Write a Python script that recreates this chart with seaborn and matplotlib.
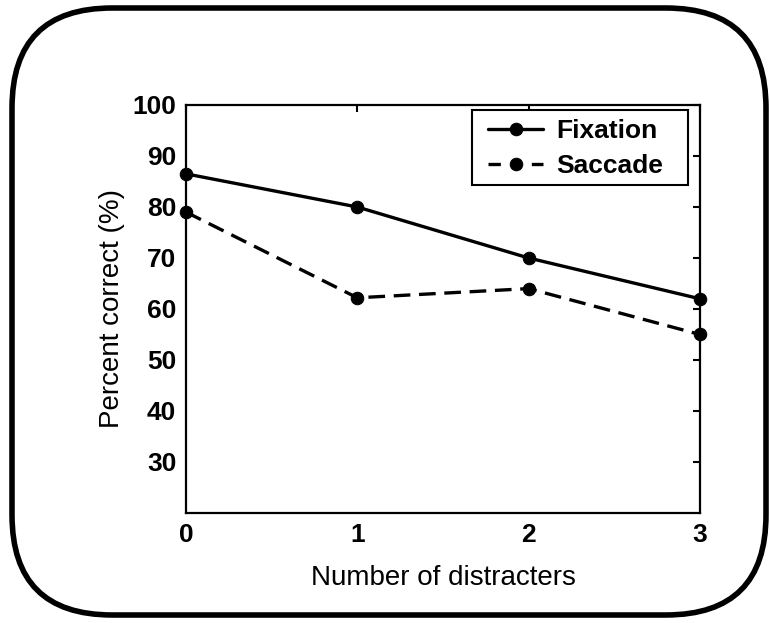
import matplotlib
matplotlib.use("Agg")
import matplotlib.pyplot as plt
from matplotlib.patches import FancyBboxPatch, Rectangle
import seaborn as sns
import pandas as pd

# Task accuracy by number of distracters
distracters = [0, 1, 2, 3]
fixation = [86.5, 80.0, 70.0, 62.0]
saccade = [79.0, 62.2, 64.0, 55.0]
y_ticks = [30, 40, 50, 60, 70, 80, 90, 100]

df = pd.DataFrame({
    "Number of distracters": distracters * 2,
    "Percent correct (%)": fixation + saccade,
    "Condition": ["Fixation"] * 4 + ["Saccade"] * 4,
})

sns.set_style("white")
plt.rcParams["font.family"] = ["Liberation Sans", "DejaVu Sans"]
plt.rcParams["text.color"] = "black"
plt.rcParams["axes.labelcolor"] = "black"

W, H = 770, 623
fig = plt.figure(figsize=(W / 100, H / 100), dpi=100)
x0, x1, y0, y1 = 186, 700, 105, 513
ax = fig.add_axes([x0 / W, 1 - y1 / H, (x1 - x0) / W, (y1 - y0) / H])

sns.lineplot(
    data=df, x="Number of distracters", y="Percent correct (%)",
    hue="Condition", style="Condition",
    palette=["black", "black"],
    dashes={"Fixation": "", "Saccade": (5, 2.6)},
    markers={"Fixation": "o", "Saccade": "o"},
    markersize=9, markeredgecolor="black", linewidth=2.4,
    ax=ax, legend=True, clip_on=False, zorder=3,
)

ax.set_xlim(0, 3)
ax.set_ylim(20, 100)
ax.set_xticks(distracters)
ax.set_yticks(y_ticks)
ax.set_yticklabels([str(v) for v in y_ticks], fontweight="bold")
ax.set_xticklabels([str(v) for v in distracters], fontweight="bold")
ax.tick_params(direction="in", length=5, width=1.5, labelsize=19, pad=7,
               top=True, right=True, colors="black")
for s in ax.spines.values():
    s.set_linewidth(1.6)
    s.set_color("black")

ax.set_xlabel("Number of distracters", fontsize=20, labelpad=13)
ax.set_ylabel("Percent correct (%)", fontsize=20, labelpad=5)

# Legend content without its own frame; box drawn separately
leg = ax.legend(
    loc="upper left", bbox_to_anchor=((488 - x0) / (x1 - x0), (y1 - 119) / (y1 - y0)),
    borderaxespad=0, borderpad=0,
    prop={"size": 19, "weight": "bold"}, handlelength=2.1, handletextpad=0.5,
    frameon=False, labelspacing=0.43,
)
for t in leg.get_texts():
    t.set_color("black")
# dashed key: one short dash on each side of the marker
leg.get_lines()[1].set_dashes((3.7, 9.3))
ax.add_patch(Rectangle(
    ((472 - x0) / (x1 - x0), (y1 - 185) / (y1 - y0)),
    (688 - 472) / (x1 - x0), (185 - 110) / (y1 - y0),
    transform=ax.transAxes, fill=True, facecolor="white",
    edgecolor="black", linewidth=1.5, zorder=4,
))
leg.set_zorder(5)

# Rounded outer frame
frame = FancyBboxPatch(
    (12 / W, 8 / H), (766 - 12) / W, (615 - 8) / H,
    boxstyle="round,pad=0,rounding_size=0.13",
    transform=fig.transFigure, fill=False, edgecolor="black",
    linewidth=4, mutation_aspect=W / H,
)
fig.patches.append(frame)

fig.savefig("out.png", dpi=100, facecolor="white")
